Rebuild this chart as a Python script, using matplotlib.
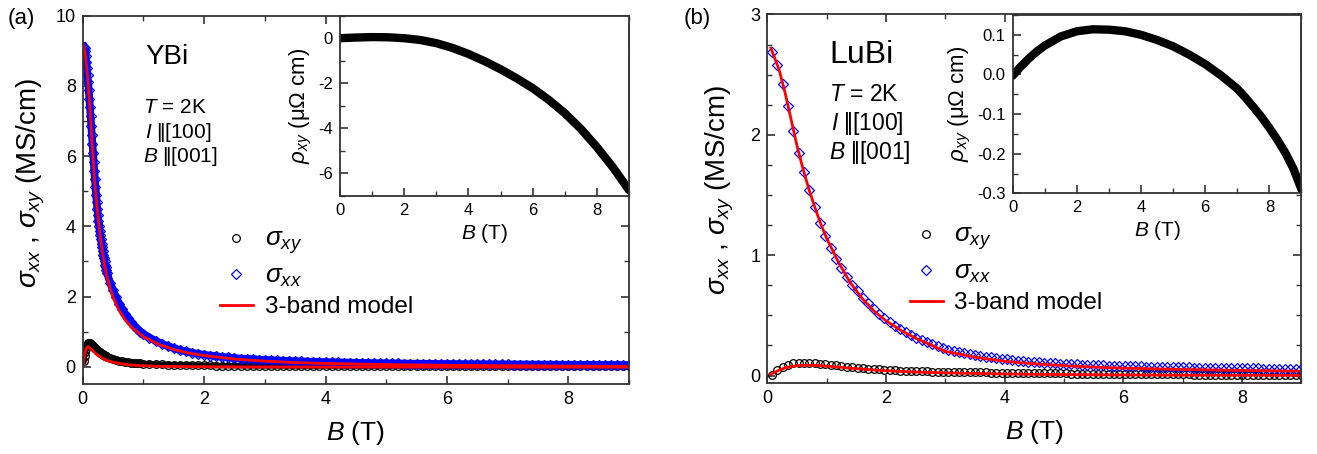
import matplotlib
matplotlib.use("Agg")
import matplotlib.pyplot as plt
from matplotlib.ticker import MultipleLocator, FormatStrFormatter

# ====================================
# FONTS
# ====================================

plt.rcParams['font.family'] = ['Liberation Sans', 'DejaVu Sans']
plt.rcParams['mathtext.fontset'] = 'custom'
plt.rcParams['mathtext.rm'] = 'Liberation Sans'
plt.rcParams['mathtext.it'] = 'Liberation Sans:italic'
plt.rcParams['mathtext.bf'] = 'Liberation Sans:bold'
plt.rcParams['axes.unicode_minus'] = False

# ====================================
# DATA : (a) YBi
# ====================================

B_a = [0.02, 0.03, 0.04, 0.05, 0.06, 0.07, 0.08, 0.09, 0.10,
       0.11, 0.12, 0.13, 0.14, 0.15, 0.16, 0.17, 0.18, 0.19, 0.20,
       0.21, 0.22, 0.23, 0.24, 0.25, 0.26, 0.27, 0.28, 0.29, 0.30,
       0.31, 0.32, 0.33, 0.34, 0.35, 0.36, 0.37, 0.38, 0.39, 0.40,
       0.45, 0.50, 0.55, 0.60, 0.65, 0.70, 0.75, 0.80, 0.85, 0.90, 0.95, 1.00,
       1.1, 1.2, 1.3, 1.4, 1.5, 1.6, 1.7, 1.8, 1.9, 2.0,
       2.1, 2.2, 2.3, 2.4, 2.5, 2.6, 2.7, 2.8, 2.9, 3.0,
       3.1, 3.2, 3.3, 3.4, 3.5, 3.6, 3.7, 3.8, 3.9, 4.0,
       4.1, 4.2, 4.3, 4.4, 4.5, 4.6, 4.7, 4.8, 4.9, 5.0,
       5.1, 5.2, 5.3, 5.4, 5.5, 5.6, 5.7, 5.8, 5.9, 6.0,
       6.1, 6.2, 6.3, 6.4, 6.5, 6.6, 6.7, 6.8, 6.9, 7.0,
       7.1, 7.2, 7.3, 7.4, 7.5, 7.6, 7.7, 7.8, 7.9, 8.0,
       8.1, 8.2, 8.3, 8.4, 8.5, 8.6, 8.7, 8.8, 8.9, 9.0]

sxx_a = [9.12, 9.08, 8.99, 8.85, 8.68, 8.50, 8.30, 8.10, 7.88,
         7.64, 7.39, 7.13, 6.87, 6.61, 6.35, 6.09, 5.84, 5.59, 5.35,
         5.12, 4.90, 4.69, 4.49, 4.31, 4.15, 4.01, 3.88, 3.75, 3.63,
         3.51, 3.40, 3.29, 3.19, 3.09, 3.00, 2.91, 2.83, 2.75, 2.68,
         2.40, 2.18, 1.98, 1.80, 1.64, 1.50, 1.38, 1.27, 1.17, 1.08, 1.00, 0.94,
         0.83, 0.74, 0.66, 0.59, 0.53, 0.48, 0.44, 0.40, 0.37, 0.34,
         0.32, 0.30, 0.28, 0.265, 0.25, 0.235, 0.225, 0.215, 0.205, 0.195,
         0.187, 0.179, 0.172, 0.165, 0.159, 0.153, 0.147, 0.142, 0.137, 0.132,
         0.128, 0.124, 0.120, 0.116, 0.113, 0.110, 0.107, 0.104, 0.101, 0.098,
         0.096, 0.094, 0.091, 0.089, 0.087, 0.085, 0.083, 0.081, 0.080, 0.078,
         0.076, 0.075, 0.073, 0.072, 0.071, 0.069, 0.068, 0.067, 0.066, 0.065,
         0.064, 0.063, 0.062, 0.061, 0.060, 0.059, 0.058, 0.057, 0.057, 0.056,
         0.055, 0.054, 0.054, 0.053, 0.052, 0.052, 0.051, 0.050, 0.050, 0.049]

sxy_a = [0.16, 0.30, 0.42, 0.51, 0.58, 0.63, 0.66, 0.675, 0.68,
         0.675, 0.665, 0.65, 0.635, 0.62, 0.60, 0.585, 0.57, 0.555, 0.54,
         0.525, 0.51, 0.49, 0.475, 0.46, 0.445, 0.43, 0.415, 0.40, 0.39,
         0.375, 0.365, 0.355, 0.34, 0.33, 0.32, 0.31, 0.30, 0.295, 0.285,
         0.25, 0.22, 0.195, 0.175, 0.155, 0.14, 0.128, 0.118, 0.11, 0.103, 0.097, 0.092,
         0.084, 0.077, 0.070, 0.064, 0.058, 0.053, 0.049, 0.045, 0.041, 0.038,
         0.036, 0.034, 0.032, 0.031, 0.030, 0.029, 0.028, 0.027, 0.026, 0.025,
         0.025, 0.024, 0.024, 0.023, 0.023, 0.022, 0.022, 0.022, 0.021, 0.021,
         0.021, 0.021, 0.020, 0.020, 0.020, 0.020, 0.020, 0.020, 0.020, 0.020,
         0.020, 0.020, 0.020, 0.020, 0.020, 0.020, 0.020, 0.020, 0.020, 0.020,
         0.020, 0.020, 0.020, 0.020, 0.020, 0.020, 0.020, 0.020, 0.020, 0.020,
         0.020, 0.020, 0.020, 0.020, 0.020, 0.020, 0.020, 0.020, 0.020, 0.020,
         0.020, 0.020, 0.020, 0.020, 0.020, 0.020, 0.020, 0.020, 0.020, 0.020]

# 3-band model curves
Bm_a = [0, 0.02, 0.04, 0.06, 0.08, 0.1, 0.12, 0.15, 0.2, 0.25, 0.3, 0.35, 0.4,
        0.5, 0.6, 0.7, 0.8, 1.0, 1.25, 1.5, 1.75, 2.0, 2.5, 3.0, 3.5, 4.0,
        5.0, 6.0, 7.0, 8.0, 9.0]
model_xx_a = [9.22, 9.12, 8.92, 8.62, 8.25, 7.82, 7.35, 6.50, 5.20, 4.30, 3.55, 2.98, 2.55,
              1.97, 1.60, 1.33, 1.13, 0.86, 0.64, 0.49, 0.39, 0.32, 0.22, 0.16, 0.12, 0.095,
              0.062, 0.043, 0.030, 0.020, 0.012]
model_xy_a = [0, 0.22, 0.42, 0.53, 0.57, 0.56, 0.53, 0.48, 0.40, 0.33, 0.27, 0.22, 0.18,
              0.13, 0.095, 0.07, 0.05, 0.03, 0.015, 0.008, 0.003, 0.0, -0.003, -0.005, -0.006, -0.007,
              -0.008, -0.009, -0.01, -0.01, -0.01]

# inset rho_xy
B_ia = [0, 0.5, 1, 1.5, 2, 2.5, 3, 3.5, 4, 4.5, 5, 5.5, 6, 6.5, 7, 7.5, 8, 8.5, 9]
rho_ia = [0, 0.03, 0.05, 0.04, 0.0, -0.08, -0.22, -0.43, -0.70, -1.02, -1.38, -1.78,
          -2.22, -2.74, -3.33, -4.03, -4.84, -5.74, -6.75]

# ====================================
# DATA : (b) LuBi
# ====================================

B_b = [0.08, 0.17, 0.26, 0.35, 0.44, 0.53, 0.62, 0.71, 0.80, 0.89,
       0.98, 1.07, 1.16, 1.25, 1.34, 1.43, 1.52, 1.61, 1.70, 1.79,
       1.88, 1.97, 2.06, 2.15, 2.24, 2.33, 2.42, 2.51, 2.60, 2.69,
       2.78, 2.87, 2.96, 3.05, 3.14, 3.23, 3.32, 3.41, 3.50, 3.59,
       3.68, 3.77, 3.86, 3.95, 4.04, 4.13, 4.22, 4.31, 4.40, 4.49,
       4.58, 4.67, 4.76, 4.85, 4.94, 5.03, 5.12, 5.21, 5.30, 5.39,
       5.48, 5.57, 5.66, 5.75, 5.84, 5.93, 6.02, 6.11, 6.20, 6.29,
       6.38, 6.47, 6.56, 6.65, 6.74, 6.83, 6.92, 7.01, 7.10, 7.19,
       7.28, 7.37, 7.46, 7.55, 7.64, 7.73, 7.82, 7.91, 8.00, 8.09,
       8.18, 8.27, 8.36, 8.45, 8.54, 8.63, 8.72, 8.81, 8.90, 8.99]

sxx_b = [2.69, 2.58, 2.42, 2.24, 2.03, 1.85, 1.69, 1.54, 1.40, 1.27,
         1.16, 1.06, 0.97, 0.89, 0.82, 0.755, 0.70, 0.645, 0.60, 0.555,
         0.515, 0.48, 0.445, 0.415, 0.39, 0.36, 0.34, 0.315, 0.295, 0.28,
         0.26, 0.245, 0.23, 0.215, 0.205, 0.195, 0.186, 0.177, 0.170, 0.163,
         0.157, 0.150, 0.144, 0.138, 0.133, 0.128, 0.124, 0.120, 0.116, 0.112,
         0.109, 0.106, 0.103, 0.100, 0.098, 0.096, 0.094, 0.092, 0.090, 0.088,
         0.087, 0.085, 0.084, 0.082, 0.081, 0.080, 0.079, 0.077, 0.076, 0.075,
         0.074, 0.073, 0.072, 0.071, 0.070, 0.069, 0.069, 0.068, 0.067, 0.066,
         0.065, 0.065, 0.064, 0.063, 0.063, 0.062, 0.061, 0.061, 0.060, 0.060,
         0.059, 0.059, 0.058, 0.058, 0.057, 0.057, 0.056, 0.056, 0.055, 0.055]

sxy_b = [0.008, 0.045, 0.072, 0.090, 0.101, 0.107, 0.108, 0.106, 0.103, 0.099,
         0.094, 0.089, 0.084, 0.079, 0.074, 0.069, 0.064, 0.060, 0.056, 0.053,
         0.050, 0.047, 0.045, 0.043, 0.041, 0.039, 0.038, 0.036, 0.035, 0.034,
         0.033, 0.032, 0.031, 0.030, 0.029, 0.028, 0.027, 0.027, 0.026, 0.025,
         0.025, 0.024, 0.023, 0.023, 0.022, 0.022, 0.021, 0.021, 0.020, 0.020,
         0.019, 0.019, 0.018, 0.018, 0.017, 0.017, 0.016, 0.016, 0.016, 0.015,
         0.015, 0.014, 0.014, 0.014, 0.013, 0.013, 0.012, 0.012, 0.012, 0.011,
         0.011, 0.011, 0.010, 0.010, 0.010, 0.009, 0.009, 0.009, 0.009, 0.008,
         0.008, 0.008, 0.008, 0.007, 0.007, 0.007, 0.007, 0.006, 0.006, 0.006,
         0.006, 0.005, 0.005, 0.005, 0.005, 0.005, 0.004, 0.004, 0.004, 0.004]

Bm_b = [0.06, 0.1, 0.2, 0.3, 0.4, 0.5, 0.6, 0.7, 0.8, 0.9, 1.0, 1.2, 1.4, 1.6,
        1.8, 2.0, 2.25, 2.5, 2.75, 3.0, 3.5, 4.0, 4.5, 5.0, 5.5, 6.0, 7.0, 8.0, 9.0]
model_xx_b = [2.72, 2.67, 2.54, 2.35, 2.13, 1.91, 1.72, 1.55, 1.40, 1.26, 1.14, 0.94,
              0.77, 0.64, 0.535, 0.455, 0.375, 0.31, 0.255, 0.20, 0.152, 0.118, 0.097,
              0.082, 0.070, 0.061, 0.050, 0.042, 0.036]
model_xy_b = [0.01, 0.02, 0.045, 0.063, 0.075, 0.082, 0.085, 0.086, 0.085, 0.082, 0.078,
              0.070, 0.061, 0.053, 0.046, 0.040, 0.034, 0.029, 0.025, 0.022, 0.017, 0.013,
              0.010, 0.008, 0.006, 0.005, 0.003, 0.002, 0.001]

B_ib = [0, 0.25, 0.5, 0.75, 1.0, 1.5, 2.0, 2.5, 3.0, 3.5, 4.0, 4.5, 5.0, 5.5,
        6.0, 6.5, 7.0, 7.25, 7.5, 7.75, 8.0, 8.25, 8.5, 8.75, 9.0]
rho_ib = [-0.003, 0.02, 0.04, 0.058, 0.073, 0.096, 0.109, 0.114, 0.113, 0.109,
          0.100, 0.087, 0.071, 0.050, 0.026, -0.003, -0.036, -0.058, -0.082, -0.107,
          -0.135, -0.165, -0.198, -0.238, -0.29]

# ====================================
# FIGURE
# ====================================

fig = plt.figure(figsize=(13.17, 4.54), dpi=100)

ax_a = fig.add_axes([0.0628, 0.1535, 0.4148, 0.8119])
ax_b = fig.add_axes([0.5826, 0.1570, 0.4056, 0.8111])
in_a = fig.add_axes([0.2582, 0.5689, 0.2194, 0.3965])
in_b = fig.add_axes([0.7690, 0.5742, 0.2192, 0.3927])

SPINE = '#333333'
PAR = r'$|\!|$'   # double bar "parallel to"


def style_axes(ax, tick_size, mirror):

    for s in ax.spines.values():
        s.set_linewidth(1.3)
        s.set_color(SPINE)

    ax.tick_params(which='both', direction='in', top=mirror, right=mirror,
                   colors=SPINE, labelcolor='black', labelsize=tick_size, pad=5)
    ax.tick_params(which='major', length=6, width=1.2)
    ax.tick_params(which='minor', length=3.5, width=1.0)


# ====================================
# PANEL (a)
# ====================================

# dense measured points overlap into solid bands
ax_a.plot(B_a, sxy_a, color='black', lw=4)
p_xy_a, = ax_a.plot(B_a, sxy_a, ls='none', marker='o', ms=5.5, mfc='none',
                    mec='black', mew=0.9, label=r'$\sigma_{xy}$')
ax_a.plot(B_a, sxx_a, color='blue', lw=5.5)
p_xx_a, = ax_a.plot(B_a, sxx_a, ls='none', marker='D', ms=5, mfc='none',
                    mec='blue', mew=0.9, label=r'$\sigma_{xx}$')
p_m_a, = ax_a.plot(Bm_a, model_xx_a, color='red', lw=2, label='3-band model')
ax_a.plot(Bm_a, model_xy_a, color='red', lw=2)

ax_a.set_xlim(0, 9)
ax_a.set_ylim(-0.5, 10)
ax_a.xaxis.set_major_locator(MultipleLocator(2))
ax_a.xaxis.set_minor_locator(MultipleLocator(1))
ax_a.yaxis.set_major_locator(MultipleLocator(2))
ax_a.yaxis.set_minor_locator(MultipleLocator(1))
style_axes(ax_a, 13, True)

ax_a.set_xlabel(r'$B$ (T)', fontsize=19, labelpad=8)
ax_a.set_ylabel(r'$\sigma_{xx}$ , $\sigma_{xy}$ (MS/cm)', fontsize=20, labelpad=6)
ax_a.yaxis.label.set_y(0.546)

ax_a.text(0.114, 0.888, 'YBi', transform=ax_a.transAxes, fontsize=20, va='center')
ax_a.text(0.110, 0.752, r'$T$ = 2K', transform=ax_a.transAxes, fontsize=15, va='center')
ax_a.text(0.114, 0.682, r'$I$ ' + PAR + '[100]', transform=ax_a.transAxes, fontsize=15, va='center')
ax_a.text(0.110, 0.617, r'$B$ ' + PAR + '[001]', transform=ax_a.transAxes, fontsize=15, va='center')

leg_a = ax_a.legend(handles=[p_xy_a, p_xx_a, p_m_a], loc='center left',
                    bbox_to_anchor=(0.251, 0.303), frameon=False, fontsize=17.5,
                    handlelength=1.35, handletextpad=0.5, labelspacing=0.3,
                    borderpad=0, borderaxespad=0, numpoints=1)
leg_a.get_texts()[0].set_fontsize(19)
leg_a.get_texts()[1].set_fontsize(19)

# inset (a)
in_a.plot(B_ia, rho_ia, color='black', lw=6, solid_capstyle='round')
in_a.set_xlim(0, 9)
in_a.set_ylim(-7, 1)
in_a.xaxis.set_major_locator(MultipleLocator(2))
in_a.xaxis.set_minor_locator(MultipleLocator(1))
in_a.yaxis.set_major_locator(MultipleLocator(2))
in_a.yaxis.set_minor_locator(MultipleLocator(1))
style_axes(in_a, 12, False)
in_a.set_xlabel(r'$B$ (T)', fontsize=15, labelpad=3)
in_a.set_ylabel(r'$\rho_{xy}$ (μΩ cm)', fontsize=16, labelpad=3)

# ====================================
# PANEL (b)
# ====================================

p_xy_b, = ax_b.plot(B_b, sxy_b, ls='none', marker='o', ms=5.5, mfc='none',
                    mec='black', mew=0.9, label=r'$\sigma_{xy}$')
p_xx_b, = ax_b.plot(B_b, sxx_b, ls='none', marker='D', ms=5, mfc='none',
                    mec='blue', mew=0.9, label=r'$\sigma_{xx}$')
p_m_b, = ax_b.plot(Bm_b, model_xx_b, color='red', lw=2, label='3-band model')
ax_b.plot(Bm_b, model_xy_b, color='red', lw=2)

ax_b.set_xlim(0, 9)
ax_b.set_ylim(-0.06, 3)
ax_b.xaxis.set_major_locator(MultipleLocator(2))
ax_b.xaxis.set_minor_locator(MultipleLocator(1))
ax_b.yaxis.set_major_locator(MultipleLocator(1))
ax_b.yaxis.set_minor_locator(MultipleLocator(0.25))
style_axes(ax_b, 13, True)

ax_b.set_xlabel(r'$B$ (T)', fontsize=19, labelpad=8)
ax_b.set_ylabel(r'$\sigma_{xx}$ , $\sigma_{xy}$ (MS/cm)', fontsize=20, labelpad=10)
ax_b.yaxis.label.set_y(0.523)

ax_b.text(0.1155, 0.890, 'LuBi', transform=ax_b.transAxes, fontsize=23, va='center')
ax_b.text(0.1155, 0.784, r'$T$ = 2K', transform=ax_b.transAxes, fontsize=16.5, va='center')
ax_b.text(0.119, 0.705, r'$I$ ' + PAR + '[100]', transform=ax_b.transAxes, fontsize=16.5, va='center')
ax_b.text(0.1155, 0.626, r'$B$ ' + PAR + '[001]', transform=ax_b.transAxes, fontsize=16.5, va='center')

leg_b = ax_b.legend(handles=[p_xy_b, p_xx_b, p_m_b], loc='center left',
                    bbox_to_anchor=(0.267, 0.31), frameon=False, fontsize=17.5,
                    handlelength=1.35, handletextpad=0.45, labelspacing=0.3,
                    borderpad=0, borderaxespad=0, numpoints=1)
leg_b.get_texts()[0].set_fontsize(19)
leg_b.get_texts()[1].set_fontsize(19)

# inset (b)
in_b.plot(B_ib, rho_ib, color='black', lw=6, solid_capstyle='round')
in_b.set_xlim(0, 9)
in_b.set_ylim(-0.3, 0.15)
in_b.xaxis.set_major_locator(MultipleLocator(2))
in_b.xaxis.set_minor_locator(MultipleLocator(1))
in_b.yaxis.set_major_locator(MultipleLocator(0.1))
in_b.yaxis.set_minor_locator(MultipleLocator(0.05))
in_b.yaxis.set_major_formatter(FormatStrFormatter('%.1f'))
style_axes(in_b, 12, False)
in_b.set_xlabel(r'$B$ (T)', fontsize=15, labelpad=3)
in_b.set_ylabel(r'$\rho_{xy}$ (μΩ cm)', fontsize=16, labelpad=3)

# ====================================
# PANEL LABELS
# ====================================

fig.text(0.016, 0.960, '(a)', fontsize=16, ha='center', va='center')
fig.text(0.5296, 0.960, '(b)', fontsize=16, ha='center', va='center')

fig.savefig('out.png', dpi=100)
